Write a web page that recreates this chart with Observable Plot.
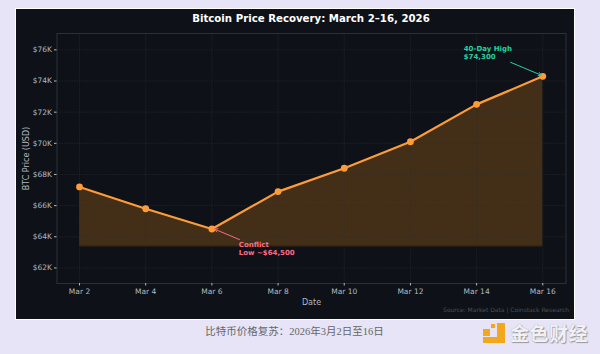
<!DOCTYPE html>
<html><head><meta charset="utf-8">
<script src="https://cdn.jsdelivr.net/npm/d3@7"></script>
<script src="https://cdn.jsdelivr.net/npm/@observablehq/plot@0.6"></script>
<style>
html,body{margin:0;padding:0;background:#e6e4f6;width:600px;height:354px;overflow:hidden}
#wrap{position:relative;width:600px;height:354px}
#panel{position:absolute;left:16px;top:9px;width:558px;height:310px;background:#0e1218;box-shadow:0 0 0 1px #fff}
#title{position:absolute;left:32px;top:12px;width:558px;text-align:center;color:#fff;font:bold 10.2px "DejaVu Sans";line-height:14px}
#chart{position:absolute;left:0;top:0}
#caption{position:absolute;left:0;top:325px;width:589px;text-align:center;color:#666;font:10.5px "Liberation Serif","Noto Sans CJK SC";line-height:14px}
#brand{position:absolute;left:510px;top:321px;color:#f1f0f8;font:bold 19px "Noto Sans CJK SC";line-height:24px;letter-spacing:.5px;text-shadow:1px 1px 1px #999,0 0 1px #aaa}
.lg{position:absolute;background:#f2a81d}
</style></head><body>
<div id="wrap">
<div id="panel"></div>
<div id="chart"></div>
<div id="title">Bitcoin Price Recovery: March 2–16, 2026</div>
<div id="caption">比特币价格复苏：2026年3月2日至16日</div>
<div class="lg" style="left:483px;top:337px;width:22px;height:6px"></div>
<div class="lg" style="left:497px;top:323px;width:8px;height:20px"></div>
<div class="lg" style="left:483px;top:329px;width:7px;height:7px"></div>
<div class="lg" style="left:491px;top:324px;width:4px;height:4px"></div>
<div id="brand">金色财经</div>
</div>
<script>
const dates = ["2026-03-02","2026-03-04","2026-03-06","2026-03-08","2026-03-10","2026-03-12","2026-03-14","2026-03-16"];
const prices = [67200,65800,64500,66900,68400,70100,72500,74300];
const baseline = 63400;
const yTicks = [62000,64000,66000,68000,70000,72000,74000,76000];
const xDomain = ["2026-03-01T07:40Z","2026-03-16T16:50Z"];
const yDomain = [61000,77050];
const rows = dates.map((d,i)=>({date:new Date(d+"T00:00Z"),price:prices[i]}));
const xTicks = rows.map(r=>r.date);
const fmtDate = d3.utcFormat("%b %-d");
const notes = [
  {date:new Date("2026-03-06T19:30Z"),price:63280,text:"Conflict\nLow ~$64,500",color:"#ff6b81"},
  {date:new Date("2026-03-13T14:40Z"),price:75840,text:"40-Day High\n$74,300",color:"#26d0a0"}
];
const arrows = [
  {x1:new Date("2026-03-06T20:00Z"),y1:63820,x2:new Date("2026-03-06T02:00Z"),y2:64490,color:"#ff6b81"},
  {x1:new Date("2026-03-15T00:40Z"),y1:75200,x2:new Date("2026-03-15T23:00Z"),y2:74370,color:"#26d0a0"}
];
const grid = "rgba(48,46,44,.5)";
const plot = Plot.plot({
  width:600,height:354,
  marginLeft:56.5,marginRight:34.5,marginTop:33,marginBottom:71,
  style:{background:"transparent",fontFamily:"DejaVu Sans",fontSize:"7.5px",color:"#b4b8bd"},
  x:{type:"utc",domain:xDomain.map(d=>new Date(d)),label:null},
  y:{domain:yDomain,label:null},
  marks:[
    Plot.areaY(rows,{x:"date",y1:()=>baseline,y2:"price",fill:"#f7931a",fillOpacity:.23}),
    Plot.ruleY([baseline],{x1:xTicks[0],x2:xTicks[7],stroke:"#f7931a",strokeOpacity:.15}),
    Plot.gridX(xTicks,{stroke:grid,strokeOpacity:1,strokeDasharray:"1.5,1"}),
    Plot.gridY(yTicks,{stroke:grid,strokeOpacity:1,strokeDasharray:"1.5,1"}),
    Plot.frame({stroke:"#2b3036"}),
    Plot.axisX({ticks:xTicks,tickFormat:fmtDate,tickSize:2.5,tickPadding:3,stroke:"#b4b8bd",fill:"#b4b8bd",label:null}),
    Plot.axisY({ticks:yTicks,tickFormat:d=>"$"+d/1000+"K",tickSize:2.5,tickPadding:2.5,stroke:"#b4b8bd",fill:"#b4b8bd",label:null}),
    Plot.lineY(rows,{x:"date",y:"price",stroke:"#ff9c3a",strokeWidth:2.2}),
    Plot.dot(rows,{x:"date",y:"price",r:3.4,fill:"#ff9c3a"}),
    Plot.arrow(arrows,{x1:"x1",y1:"y1",x2:"x2",y2:"y2",stroke:"color",strokeWidth:1,headLength:5,bend:0}),
    Plot.text(notes,{x:"date",y:"price",text:"text",fill:"color",textAnchor:"start",fontWeight:"bold",fontSize:7,lineHeight:1.15}),
    Plot.text(["Date"],{frameAnchor:"bottom",dy:19,lineAnchor:"middle",text:d=>d,fill:"#b4b8bd",fontSize:8}),
    Plot.text(["BTC Price (USD)"],{frameAnchor:"left",rotate:-90,dx:-31,textAnchor:"middle",text:d=>d,fill:"#b4b8bd",fontSize:8}),
    Plot.text(["Source: Market Data | Coinstack Research"],{frameAnchor:"bottom-right",dx:3,dy:27,lineAnchor:"middle",text:d=>d,fill:"#4a4f55",fontSize:6,textAnchor:"end"})
  ]
});
document.getElementById("chart").append(plot);
</script>
</body></html>
